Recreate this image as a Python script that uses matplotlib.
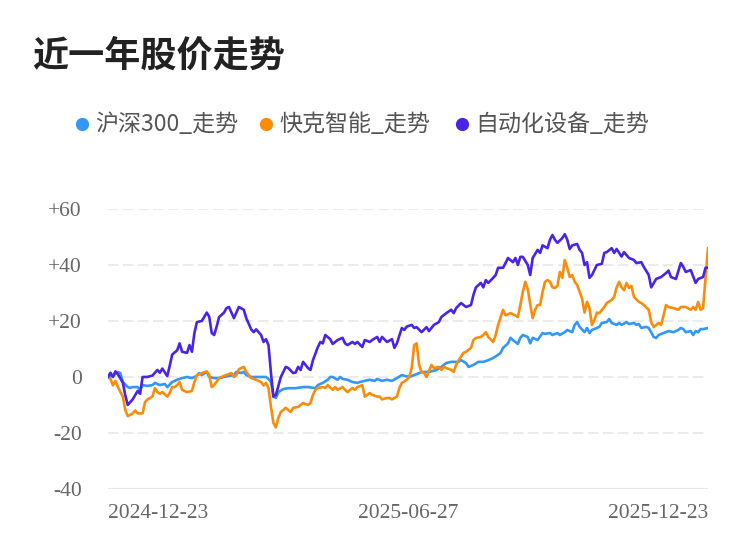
import numpy as np
import matplotlib
matplotlib.use("Agg")
import matplotlib.pyplot as plt
from matplotlib.lines import Line2D

plt.rcParams['font.family'] = ['Noto Sans CJK SC', 'DejaVu Sans']

# 数据: (交易日序号, 涨跌幅%)
hs300_pts = [(0, 0), (2, 0.4), (4, 1.8), (5, 1.4), (6, -1.8), (8, -3.6), (9, -3.9), (10, -3.6),
             (12, -3.6), (13, -4.6), (14, -2.9), (16, -3.2), (18, -2.9), (19, -2.1), (21, -2.9),
             (23, -2.5), (24, -3.6), (26, -1.8), (28, -1), (30, -0.4), (32, 0), (34, -0.4),
             (36, 0.4), (37, 1.4), (38, 0.7), (40, 1.8), (41, 0), (43, -0.4), (45, -0.4), (47, 0),
             (49, 0.4), (51, 0.7), (52, 1.8), (54, 1.4), (55, 1.8), (56, 0.7), (58, 0), (60, 0),
             (62, 0), (64, 0), (65, -0.7), (66, -1.8), (67, -7), (68, -7.5), (69, -5.4), (71, -4.3),
             (73, -4), (76, -4), (79, -3.6), (81, -3.6), (84, -4), (85, -2.9), (87, -2.1), (89, -1),
             (90, 0), (91, 0), (93, -1), (94, 0), (95, -0.7), (97, -1), (99, -1.8), (101, -2.1),
             (102, -1.8), (104, -1.4), (106, -1), (108, -1.4), (109, -0.7), (111, -1.4), (113, -1),
             (115, -1.4), (117, -0.4), (119, 0.7), (120, 0.4), (122, 0), (125, 1), (127, 1.8),
             (130, 1.8), (133, 2.5), (135, 3.6), (137, 5), (139, 5.4), (142, 5.4), (143, 6), (145, 5),
             (146, 3.6), (148, 4.3), (150, 5.4), (152, 5.4), (154, 6), (156, 6.8), (158, 7.9),
             (159, 8.6), (160, 10.4), (162, 12), (163, 14), (164, 13.2), (166, 11.8), (167, 14),
             (168, 15), (170, 14.3), (171, 12), (172, 14), (174, 13.2), (176, 15.7), (177, 15.4),
             (179, 15.7), (180, 15), (182, 15.7), (183, 15), (185, 16), (186, 16.8), (188, 16),
             (189, 18.6), (190, 19.6), (191, 17.9), (193, 16), (194, 17.5), (195, 15.7), (196, 16.8),
             (198, 17.5), (199, 17.9), (200, 19.3), (202, 19.6), (203, 20.7), (204, 19.3), (206, 18.6),
             (207, 19.3), (208, 18.6), (210, 19.6), (211, 18.9), (213, 19.3), (214, 18.6), (215, 18.9),
             (216, 17.5), (218, 17.9), (219, 17.5), (221, 14.3), (222, 13.9), (223, 15), (225, 15.7),
             (227, 16.4), (229, 16), (231, 16.8), (232, 17.5), (233, 17.1), (234, 16), (236, 16.4),
             (237, 15), (238, 16.4), (239, 16), (240, 17.1), (241, 17.1), (243, 17.5)]

kuaike_pts = [(0, 0), (1, -0.7), (2, -3), (3, -1.4), (4, -3.6), (6, -7), (7, -11.8), (8, -14),
              (10, -13), (11, -12), (12, -13), (14, -13), (15, -9), (16, -8), (18, -7), (19, -4),
              (20, -5.4), (21, -6), (22, -5.4), (24, -7), (25, -5.7), (26, -3.6), (27, -3.6),
              (28, -2.9), (29, -1.8), (30, -4.6), (32, -5.4), (34, -5), (35, -1.8), (36, 0.7),
              (38, 1.4), (40, 2), (41, 0.7), (42, -3.6), (43, -2.9), (45, -0.4), (46, 0), (47, 0.4),
              (48, 0.7), (50, 1.4), (51, 0), (52, 0.7), (53, 2.8), (55, 3.6), (56, 1.8), (58, -0.4),
              (60, -1), (62, -1.8), (63, -3), (64, -2.1), (65, -4), (66, -10.7), (67, -16.4),
              (68, -18), (69, -14.6), (70, -12.5), (72, -11), (73, -11.8), (74, -12.5), (75, -11),
              (77, -10.7), (78, -10), (79, -9.3), (81, -10), (82, -9.3), (83, -6.4), (84, -4.6),
              (85, -3.9), (87, -3.6), (88, -3.9), (89, -2.9), (91, -4.6), (92, -3.6), (93, -4.6),
              (95, -3.6), (96, -4.6), (97, -5.4), (99, -3.9), (100, -4.6), (101, -3.6), (103, -2.9),
              (104, -7), (105, -6.4), (106, -5.7), (107, -6.4), (109, -7), (110, -7), (111, -8),
              (113, -7.5), (114, -7.5), (115, -8), (117, -7), (118, -4), (119, -2.1), (121, -1),
              (122, 0), (123, 3.2), (124, 11.4), (125, 12), (126, 4.3), (127, 1.8), (128, 1.4),
              (129, 0), (131, 4.3), (132, 3.2), (134, 3.6), (135, 2.5), (136, 3.6), (137, 3.2),
              (139, 2.5), (140, 1.8), (141, 4.3), (142, 6), (144, 8.6), (145, 9), (147, 10.4),
              (148, 13.2), (149, 13.9), (151, 14.3), (152, 15), (153, 16), (154, 14.3), (156, 12.5),
              (157, 15), (158, 18.6), (160, 24), (161, 22), (163, 22.8), (165, 22), (166, 21.4),
              (167, 25.7), (168, 30.4), (169, 34), (170, 31.4), (171, 26), (172, 21), (173, 24),
              (174, 25.7), (175, 25.7), (176, 30.4), (177, 34), (178, 34.6), (179, 34), (180, 32),
              (181, 31.8), (182, 32.5), (183, 37.5), (184, 35.4), (185, 41.8), (186, 39), (187, 35.7),
              (188, 36.4), (189, 34), (190, 32.9), (192, 28), (193, 23), (194, 26.8), (195, 24.6),
              (196, 18.6), (197, 20.4), (198, 23), (199, 22.8), (201, 25), (202, 26.4), (204, 27.5),
              (205, 28.6), (206, 32), (207, 34), (208, 32), (209, 31), (210, 33.6), (211, 31.8),
              (212, 32.5), (213, 28.6), (215, 26.8), (216, 26.4), (217, 25.7), (219, 24), (220, 19.6),
              (221, 17.8), (223, 19.3), (224, 18.6), (225, 22), (226, 25.7), (227, 25), (229, 24.6),
              (231, 24), (232, 25), (234, 25), (236, 24), (237, 25), (238, 24), (239, 26.8),
              (240, 24), (241, 24.6), (242, 35.4), (243, 46)]

zdh_pts = [(0, 0), (1, 1.5), (2, 0), (3, 2), (4, 1), (6, -2), (7, -6.5), (8, -10), (10, -8),
           (11, -6.5), (12, -5), (13, -6), (14, 0), (16, 0), (18, 0.5), (20, 2.5), (21, 1.5), (22, 3),
           (24, 0.3), (25, 4), (26, 8), (28, 9.5), (29, 12), (30, 9), (32, 8.6), (33, 11.4), (34, 9),
           (35, 15.7), (36, 19.6), (38, 20), (40, 23), (41, 21.5), (42, 15.7), (43, 15), (44, 18),
           (45, 21.4), (47, 23), (48, 24.6), (49, 25), (51, 21), (52, 23), (53, 25), (55, 24),
           (56, 21), (58, 17), (59, 16), (60, 17), (62, 15), (63, 12.5), (64, 13.5), (65, 11.4),
           (66, 1.4), (67, -7), (68, -6.4), (70, 0), (72, 3.6), (73, 3.2), (75, 1.4), (76, 1.6),
           (77, 3.6), (78, 2.5), (79, 5.4), (81, 3.2), (82, 2.5), (83, 6), (85, 10.7), (86, 12.5),
           (87, 12), (88, 15), (90, 13.5), (91, 11.8), (93, 13.2), (95, 14), (96, 12), (97, 11.4),
           (99, 12.5), (100, 11.8), (101, 12.5), (103, 10.7), (104, 13.2), (106, 12.5), (107, 13.2),
           (109, 14.3), (110, 12.5), (111, 14.3), (113, 12.5), (115, 13.5), (116, 10.4), (117, 12),
           (119, 17.5), (120, 16.8), (121, 18), (123, 18.6), (124, 17.5), (125, 17.8), (127, 16),
           (129, 17.8), (130, 16.4), (132, 18.6), (134, 19.6), (135, 21.4), (137, 22.8), (139, 24),
           (140, 22.8), (141, 24.6), (143, 26.4), (145, 25), (147, 25.7), (148, 29.3), (149, 32),
           (151, 33.6), (152, 32), (153, 34.6), (154, 33.6), (156, 35.4), (157, 36.4), (158, 39),
           (160, 39), (161, 40.7), (162, 42.5), (164, 41), (165, 42.5), (166, 40), (167, 42.9),
           (168, 42.9), (170, 40), (171, 36.4), (172, 42.5), (174, 45.4), (175, 44.3), (176, 47),
           (178, 46), (179, 49), (180, 50.7), (181, 49), (182, 47.9), (184, 49.6), (185, 51),
           (186, 49), (187, 45.7), (188, 47), (190, 47.5), (191, 45.4), (192, 44.3), (193, 40),
           (194, 41), (195, 35.4), (196, 36.4), (198, 40), (200, 40.4), (201, 44.3), (202, 44.6),
           (204, 46), (205, 44.3), (206, 45.7), (208, 43), (209, 44.6), (211, 42.5), (213, 41.8),
           (214, 40.7), (216, 41), (217, 39.3), (219, 36.4), (220, 32), (222, 35), (224, 35.7),
           (226, 37.1), (227, 38), (228, 35.7), (230, 35), (232, 40.7), (233, 39.3), (234, 37.5),
           (236, 38.2), (238, 33.6), (239, 35), (241, 35.7), (242, 39), (243, 39)]

series_names = ['沪深300_走势', '快克智能_走势', '自动化设备_走势']
series_colors = ['#3297f5', '#fb8c0a', '#4a24e6']
date_labels = ['2024-12-23', '2025-06-27', '2025-12-23']
n_days = 243
y_ticks = [-40, -20, 0, 20, 40, 60]

fig = plt.figure(figsize=(7.5, 5.58), dpi=100)
ax = fig.add_axes([0.144, 0.1237, 0.8, 0.5018])

for pts, c in zip([hs300_pts, kuaike_pts, zdh_pts], series_colors):
    arr = np.array(pts, dtype=float)
    ax.plot(arr[:, 0], arr[:, 1], color=c, lw=1.9, solid_joinstyle='round')

ax.set_xlim(0, n_days)
ax.set_ylim(-40, 60)

# 网格线
for v in y_ticks:
    if v == -40:
        ax.axhline(v, color='#e6e6e6', lw=1.5, zorder=0)
    else:
        ax.axhline(v, color='#ebebeb', lw=1.5, zorder=0, dashes=(5, 2.2))

for s in ax.spines.values():
    s.set_visible(False)

ax.set_yticks(y_ticks)
ax.set_yticklabels(['+%d' % v if v > 0 else str(v) for v in y_ticks],
                   family='Liberation Serif', fontsize=15.5, color='#666666')
ax.tick_params(axis='y', length=0, pad=19)

ax.set_xticks([0, n_days / 2, n_days])
ax.set_xticklabels(date_labels, family='Liberation Serif', fontsize=15.5, color='#666666')
ax.tick_params(axis='x', length=0, pad=11)
xl = ax.get_xticklabels()
xl[0].set_ha('left')
xl[2].set_ha('right')

# 标题
fig.text(32 / 750, 1 - 56 / 558, '近一年股价走势', fontsize=26, fontweight='bold',
         color='#222222', ha='left', va='center')

# 图例
leg_x = [82, 266, 462]
for lx, name, c in zip(leg_x, series_names, series_colors):
    fig.add_artist(Line2D([lx / 750], [1 - 124 / 558], marker='o', markersize=8.5,
                          color=c, lw=0, transform=fig.transFigure))
    fig.text((lx + 13) / 750, 1 - 125 / 558, name, fontsize=16.6, color='#555555',
             ha='left', va='center')

fig.savefig('out.png', dpi=100)
